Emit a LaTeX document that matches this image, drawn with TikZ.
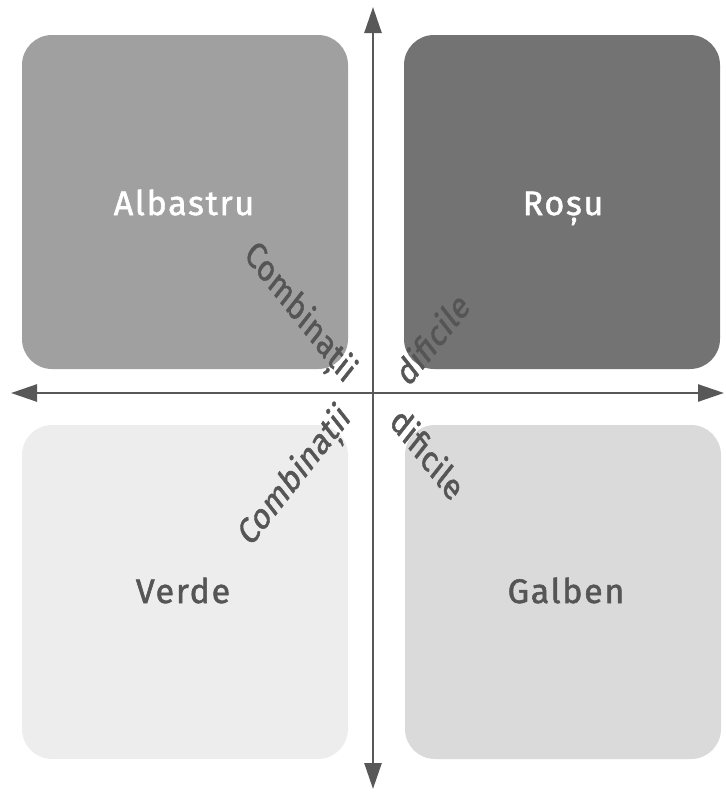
\documentclass[tikz,border=0pt]{standalone}
\usepackage{fontspec}
\setmainfont{Fira Sans}
\newfontfamily\quadfont{Fira Sans}[FakeBold=1.6, LetterSpace=5]
\newfontfamily\diagfont{Fira Sans}[FakeBold=1.4]
\usetikzlibrary{arrows.meta}
\definecolor{axisgray}{HTML}{585858}
\definecolor{bluebox}{HTML}{A0A0A0}
\definecolor{redbox}{HTML}{737373}
\definecolor{greenbox}{HTML}{EDEDED}
\definecolor{yellowbox}{HTML}{DADADA}
\definecolor{darktext}{HTML}{555555}
\tikzset{
  quad/.style={rounded corners=30pt, minimum height=334pt, inner sep=0pt},
  wide/.style={quad, minimum width=326pt},
  narrow/.style={quad, minimum width=316pt},
  label/.style={font=\quadfont\fontsize{34}{34}\selectfont, anchor=base, inner sep=0pt},
  diag/.style={font=\diagfont\fontsize{37}{37}\selectfont, text=darktext, inner sep=0pt, xscale=0.79},
  axis/.style={draw=axisgray, line width=2.6pt, -{Triangle[length=26pt,width=17pt]}}
}
\begin{document}
\begin{tikzpicture}[x=1pt,y=-1pt]
  \useasboundingbox (0,0) rectangle (726,793);
  % the four colour quadrants
  \node[wide, fill=bluebox]     (blue)   at (185,202) {};
  \node[narrow, fill=redbox]    (red)    at (562,202) {};
  \node[wide, fill=greenbox]    (green)  at (185,592) {};
  \node[narrow, fill=yellowbox] (yellow) at (563,592) {};
  \node[label, text=white]    (tblue)   at (184,215) {Albastru};
  \node[label, text=white]    (tred)    at (563,215) {Roșu};
  \node[label, text=darktext] (tgreen)  at (183,603) {Verde};
  \node[label, text=darktext] (tyellow) at (566,603) {Galben};
  % axes
  \coordinate (c) at (373,393);
  \coordinate (n) at (373,7);
  \coordinate (s) at (373,789);
  \coordinate (w) at (11,393);
  \coordinate (e) at (724,393);
  \draw[axis] (c) -- (n);
  \draw[axis] (c) -- (s);
  \draw[axis] (c) -- (w);
  \draw[axis] (c) -- (e);
  % diagonal captions
  \node[diag, rotate=-45] (ulc) at (299,314) {Combinații};
  \node[diag, rotate=45]  (urd) at (432,338) {dificile};
  \node[diag, rotate=45]  (llc) at (296,477) {Combinații};
  \node[diag, rotate=-45] (lrd) at (428,453) {dificile};
\end{tikzpicture}
\end{document}
